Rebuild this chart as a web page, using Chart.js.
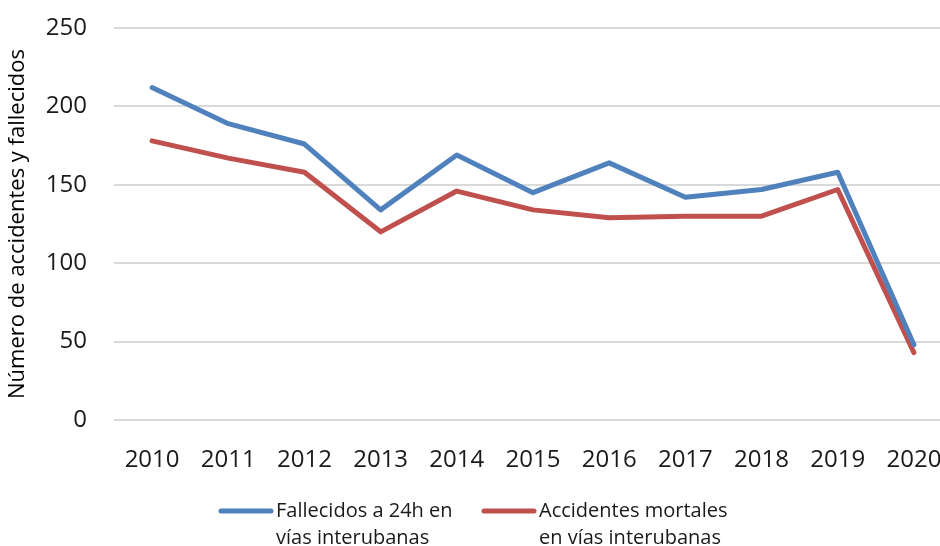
<!DOCTYPE html>
<html>
<head>
<meta charset="utf-8">
<script src="https://cdn.jsdelivr.net/npm/chart.js@4/dist/chart.umd.min.js"></script>
<style>
  html, body { margin: 0; padding: 0; background: #fff; overflow: hidden; }
  #wrap { width: 955px; height: 546px; }
  #chart { width: 955px; height: 546px; }
</style>
</head>
<body>
<div id="wrap"><canvas id="chart" width="955" height="546"></canvas></div>
<script>
const years = ["2010", "2011", "2012", "2013", "2014", "2015", "2016", "2017", "2018", "2019", "2020"];
const fallecidos = [212, 189, 176, 134, 169, 145, 164, 142, 147, 158, 48];
const accidentes = [178, 167, 158, 120, 146, 134, 129, 130, 130, 147, 43];
const yTicks = [0, 50, 100, 150, 200, 250];

const legendLabels = [
    ["Fallecidos a 24h en", "vías interubanas"],
    ["Accidentes mortales", "en vías interubanas"],
];

const FONT = "'Open Sans', 'Liberation Sans', sans-serif";
const BLUE = "#4f81bd";
const RED = "#c0504d";

// two-line legend drawn under the plot, like the spreadsheet one
const bottomLegend = {
    id: "bottomLegend",
    afterDraw(chart) {
        const ctx = chart.ctx;
        const items = [
            { color: BLUE, x0: 221, x1: 271, lines: legendLabels[0] },
            { color: RED, x0: 484, x1: 534, lines: legendLabels[1] },
        ];
        ctx.save();
        ctx.font = "20px " + FONT;
        ctx.textBaseline = "middle";
        ctx.fillStyle = "#1a1a1a";
        items.forEach((it) => {
            ctx.strokeStyle = it.color;
            ctx.lineWidth = 5;
            ctx.lineCap = "round";
            ctx.beginPath();
            ctx.moveTo(it.x0, 511);
            ctx.lineTo(it.x1, 511);
            ctx.stroke();
            it.lines.forEach((t, i) => {
                ctx.fillText(t, it.x1 + 5, 511 + i * 27);
            });
        });
        ctx.restore();
    },
};

new Chart(document.getElementById("chart"), {
    type: "line",

    data: {
        labels: years,

        datasets: [
            {
                label: legendLabels[0].join(" "),
                data: fallecidos,
                borderColor: BLUE,
                backgroundColor: BLUE,
                borderWidth: 5,
                borderCapStyle: "round",
                borderJoinStyle: "round",
                pointRadius: 0,
                tension: 0,
            },
            {
                label: legendLabels[1].join(" "),
                data: accidentes,
                borderColor: RED,
                backgroundColor: RED,
                borderWidth: 5,
                borderCapStyle: "round",
                borderJoinStyle: "round",
                pointRadius: 0,
                tension: 0,
            },
        ],
    },

    options: {
        responsive: false,
        animation: false,
        devicePixelRatio: 1,

        layout: {
            padding: { left: 0, right: 3, top: 28, bottom: 0 },
        },

        plugins: {
            legend: { display: false },
            tooltip: { enabled: false },
        },

        scales: {
            x: {
                offset: true,
                grid: { display: false, drawTicks: false },
                border: { display: false },
                ticks: {
                    padding: 26,
                    maxRotation: 0,
                    autoSkip: false,
                    color: "#1a1a1a",
                    font: { family: FONT, size: 24 },
                },
                afterFit: (scale) => {
                    scale.height = 126;
                    scale.paddingLeft = 0;
                    scale.paddingRight = 0;
                },
            },

            y: {
                min: 0,
                max: 250,
                afterBuildTicks: (scale) => {
                    scale.ticks = yTicks.map((v) => ({ value: v }));
                },
                grid: {
                    color: "#d9d9d9",
                    lineWidth: 2,
                    drawTicks: false,
                },
                border: { display: false },
                ticks: {
                    padding: 27,
                    color: "#1a1a1a",
                    font: { family: FONT, size: 24 },
                },
                title: {
                    display: true,
                    text: "Número de accidentes y fallecidos",
                    color: "#000",
                    font: { family: FONT, size: 22 },
                    padding: { top: 5, bottom: 0 },
                },
                afterFit: (scale) => {
                    scale.width = 114;
                    scale.paddingTop = 14;
                    scale.paddingBottom = 14;
                },
            },
        },
    },

    plugins: [bottomLegend],
});
</script>
</body>
</html>
